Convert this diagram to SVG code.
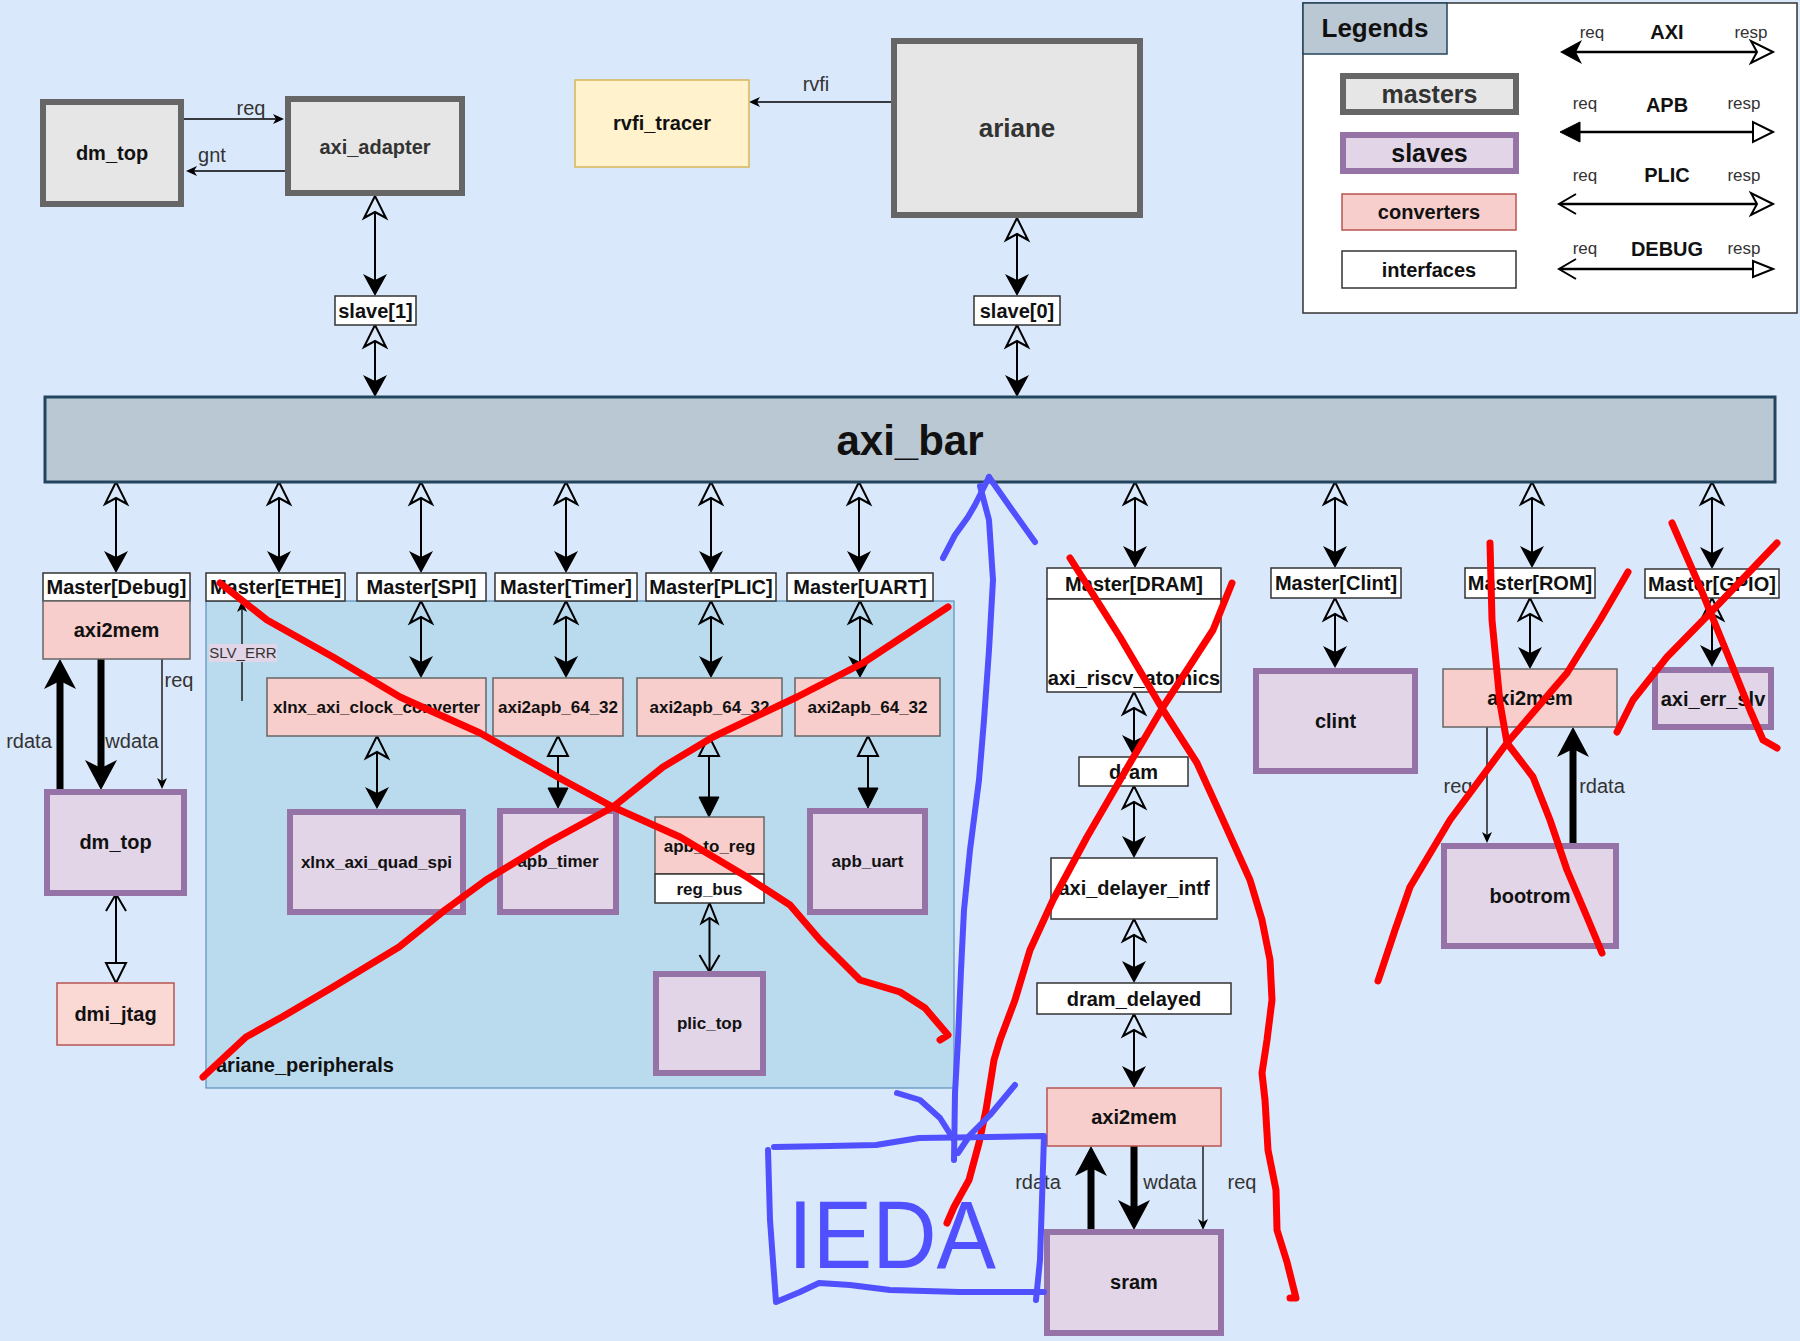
<svg xmlns="http://www.w3.org/2000/svg" width="1800" height="1341" viewBox="0 0 1800 1341">
<style>
text{font-family:"Liberation Sans",Arial,sans-serif;fill:#111;text-anchor:middle}
.b20{font-size:20px;font-weight:bold}
.b17{font-size:17px;font-weight:bold}
.lbl{font-size:20px;fill:#333}
.ll{font-size:17px;fill:#333}
.master{fill:#e6e6e6;stroke:#666;stroke-width:6}
.slave{fill:#e1d5e7;stroke:#9673a6;stroke-width:6}
.conv{fill:#f8cecc;stroke:#666;stroke-width:1.5}
.convr{fill:#f8cecc;stroke:#b85450;stroke-width:1.5}
.intf{fill:#fff;stroke:#333;stroke-width:1.5}
.c{stroke:#000;stroke-width:2;fill:none}
.axi{marker-start:url(#co);marker-end:url(#cf)}
.apb{marker-start:url(#bo);marker-end:url(#bf)}
.thin{stroke:#000;stroke-width:1.3;fill:none;marker-end:url(#sf)}
.thick{stroke:#000;stroke-width:7;fill:none;marker-end:url(#tf)}
.red{stroke:#ff0000;stroke-width:7;fill:none;stroke-linecap:round;stroke-linejoin:round}
.blue{stroke:#5050ff;stroke-width:6;fill:none;stroke-linecap:round;stroke-linejoin:round}
</style>
<defs>
<marker id="cf" markerUnits="userSpaceOnUse" orient="auto-start-reverse" refX="6" refY="0" markerWidth="30" markerHeight="30" overflow="visible"><path d="M22,0 L0,-12 L6,0 L0,12 Z" fill="#000"/></marker>
<marker id="co" markerUnits="userSpaceOnUse" orient="auto-start-reverse" refX="6" refY="0" markerWidth="30" markerHeight="30" overflow="visible"><path d="M22,0 L0,-11 L6,0 L0,11 Z" fill="none" stroke="#000" stroke-width="2"/></marker>
<marker id="con" markerUnits="userSpaceOnUse" orient="auto-start-reverse" refX="5" refY="0" markerWidth="30" markerHeight="30" overflow="visible"><path d="M20,0 L0,-8 L5,0 L0,8 Z" fill="none" stroke="#000" stroke-width="2"/></marker>
<marker id="bf" markerUnits="userSpaceOnUse" orient="auto-start-reverse" refX="0" refY="0" markerWidth="30" markerHeight="30" overflow="visible"><path d="M20,0 L0,-10 L0,10 Z" fill="#000" stroke="#000" stroke-width="1"/></marker>
<marker id="bo" markerUnits="userSpaceOnUse" orient="auto-start-reverse" refX="0" refY="0" markerWidth="30" markerHeight="30" overflow="visible"><path d="M20,0 L0,-10 L0,10 Z" fill="none" stroke="#000" stroke-width="2"/></marker>
<marker id="bos" markerUnits="userSpaceOnUse" orient="auto-start-reverse" refX="0" refY="0" markerWidth="30" markerHeight="30" overflow="visible"><path d="M20,0 L0,-8 L0,8 Z" fill="none" stroke="#000" stroke-width="2"/></marker>
<marker id="v" markerUnits="userSpaceOnUse" orient="auto-start-reverse" refX="16" refY="0" markerWidth="30" markerHeight="30" overflow="visible"><path d="M0,-10 L17,0 L0,10" fill="none" stroke="#000" stroke-width="2"/></marker>
<marker id="sf" markerUnits="userSpaceOnUse" orient="auto-start-reverse" refX="3" refY="0" markerWidth="20" markerHeight="20" overflow="visible"><path d="M11,0 L0,-5 L3,0 L0,5 Z" fill="#000"/></marker>
<marker id="tf" markerUnits="userSpaceOnUse" orient="auto-start-reverse" refX="8" refY="0" markerWidth="40" markerHeight="40" overflow="visible"><path d="M30,0 L0,-16 L8,0 L0,16 Z" fill="#000"/></marker>
</defs>
<rect x="0" y="0" width="1800" height="1341" fill="#dae8fc"/>

<g id="ariane_peripherals">
<rect x="206" y="601" width="748" height="487" fill="#badaed" stroke="#5b8fb9" stroke-width="1.2"/>
<text x="216" y="1072" class="b20" style="text-anchor:start">ariane_peripherals</text>
</g>

<g id="connectors">
<line class="c" x1="184" y1="119" x2="276" y2="119" style="stroke-width:1.5;marker-end:url(#sf)"/>
<line class="c" x1="288" y1="171" x2="194" y2="171" style="stroke-width:1.5;marker-end:url(#sf)"/>
<line class="c" x1="891" y1="102" x2="757" y2="102" style="stroke-width:1.5;marker-end:url(#sf)"/>
<line class="c axi" x1="375" y1="212" x2="375" y2="280"/>
<line class="c axi" x1="375" y1="341" x2="375" y2="381"/>
<line class="c axi" x1="1017" y1="234" x2="1017" y2="280"/>
<line class="c axi" x1="1017" y1="341" x2="1017" y2="381"/>
<line class="c axi" x1="116" y1="498" x2="116" y2="557"/>
<line class="c axi" x1="279" y1="498" x2="279" y2="557"/>
<line class="c axi" x1="421" y1="498" x2="421" y2="557"/>
<line class="c axi" x1="566" y1="498" x2="566" y2="557"/>
<line class="c axi" x1="711" y1="498" x2="711" y2="557"/>
<line class="c axi" x1="859" y1="498" x2="859" y2="557"/>
<line class="c axi" x1="1135" y1="498" x2="1135" y2="552"/>
<line class="c axi" x1="1335" y1="498" x2="1335" y2="552"/>
<line class="c axi" x1="1532" y1="498" x2="1532" y2="552"/>
<line class="c axi" x1="1712" y1="498" x2="1712" y2="553"/>
<line class="c axi" x1="421" y1="617" x2="421" y2="662"/>
<line class="c axi" x1="377" y1="752" x2="377" y2="793"/>
<line class="c axi" x1="566" y1="617" x2="566" y2="662"/>
<line class="c axi" x1="711" y1="617" x2="711" y2="662"/>
<line class="c axi" x1="860" y1="617" x2="860" y2="662"/>
<line class="c apb" x1="558" y1="756" x2="558" y2="788"/>
<line class="c apb" x1="709" y1="756" x2="709" y2="797"/>
<line class="c apb" x1="868" y1="756" x2="868" y2="788"/>
<line class="c" x1="709.5" y1="918" x2="709.5" y2="971" style="marker-start:url(#con);marker-end:url(#v)"/>
<line class="c" x1="116" y1="895" x2="116" y2="963" style="marker-start:url(#v);marker-end:url(#bo)"/>
<line class="c axi" x1="1134" y1="708" x2="1134" y2="741"/>
<line class="c axi" x1="1134" y1="802" x2="1134" y2="842"/>
<line class="c axi" x1="1134" y1="935" x2="1134" y2="967"/>
<line class="c axi" x1="1134" y1="1030" x2="1134" y2="1072"/>
<line class="c axi" x1="1335" y1="614" x2="1335" y2="652"/>
<line class="c axi" x1="1530" y1="614" x2="1530" y2="653"/>
<line class="c axi" x1="1712" y1="614" x2="1712" y2="651"/>
<line class="thick" x1="60" y1="790" x2="60" y2="681"/>
<line class="thick" x1="101" y1="659" x2="101" y2="768"/>
<line class="thin" x1="162" y1="659" x2="162" y2="781"/>
<line class="thin" x1="242" y1="701" x2="242" y2="609"/>
<line class="thick" x1="1091" y1="1230" x2="1091" y2="1168"/>
<line class="thick" x1="1134" y1="1146" x2="1134" y2="1208"/>
<line class="thin" x1="1203" y1="1146" x2="1203" y2="1222"/>
<line class="thin" x1="1487" y1="727" x2="1487" y2="835"/>
<line class="thick" x1="1573" y1="845" x2="1573" y2="749"/>
<text x="251" y="115" class="lbl">req</text>
<text x="212" y="162" class="lbl">gnt</text>
<text x="816" y="91" class="lbl">rvfi</text>
<text x="29" y="748" class="lbl">rdata</text>
<text x="132" y="748" class="lbl">wdata</text>
<text x="179" y="687" class="lbl">req</text>
<rect x="209" y="644" width="68" height="18" fill="#e1d5e7"/>
<text x="243" y="658" style="font-size:15px;fill:#333">SLV_ERR</text>
<text x="1038" y="1189" class="lbl">rdata</text>
<text x="1170" y="1189" class="lbl">wdata</text>
<text x="1242" y="1189" class="lbl">req</text>
<text x="1458" y="793" class="lbl">req</text>
<text x="1602" y="793" class="lbl">rdata</text>
</g>

<g id="dm_top_master"><rect x="43" y="102" width="138" height="102" class="master"/><text x="112" y="160" class="b20">dm_top</text></g>
<g id="axi_adapter"><rect x="288" y="99" width="174" height="94" class="master"/><text x="375" y="154" class="b20" style="fill:#333">axi_adapter</text></g>
<g id="rvfi_tracer"><rect x="575" y="80" width="174" height="87" fill="#fff2cc" stroke="#d6b656" stroke-width="1.5"/><text x="662" y="130" class="b20">rvfi_tracer</text></g>
<g id="ariane"><rect x="894" y="41" width="246" height="174" class="master"/><text x="1017" y="137" style="font-size:26px;font-weight:bold;fill:#333">ariane</text></g>
<g id="slave1"><rect x="335" y="296" width="81" height="29" class="intf"/><text x="375.5" y="318" class="b20">slave[1]</text></g>
<g id="slave0"><rect x="974" y="296" width="86" height="29" class="intf"/><text x="1017" y="318" class="b20">slave[0]</text></g>
<g id="axi_bar"><rect x="45" y="397" width="1730" height="85" fill="#bac8d3" stroke="#23445d" stroke-width="3"/><text x="910" y="455" style="font-size:42px;font-weight:bold">axi_bar</text></g>

<g id="legend">
<rect x="1303" y="3" width="494" height="310" fill="#fff" stroke="#333" stroke-width="1.5"/>
<rect x="1303" y="3" width="144" height="51" fill="#bac8d3" stroke="#23445d" stroke-width="1.5"/>
<text x="1375" y="37" style="font-size:26px;font-weight:bold">Legends</text>
<rect x="1343" y="76" width="173" height="36" class="master"/><text x="1429.5" y="103" style="font-size:25px;font-weight:bold;fill:#333">masters</text>
<rect x="1343" y="135" width="173" height="36" class="slave"/><text x="1429.5" y="162" style="font-size:25px;font-weight:bold">slaves</text>
<rect x="1342" y="194" width="174" height="36" class="convr"/><text x="1429" y="219" class="b20">converters</text>
<rect x="1342" y="251" width="174" height="37" class="intf"/><text x="1429" y="277" class="b20">interfaces</text>
<line x1="1576" y1="52" x2="1757" y2="52" stroke="#000" stroke-width="2.5" style="marker-start:url(#cf);marker-end:url(#co)"/>
<line x1="1580" y1="132" x2="1753" y2="132" stroke="#000" stroke-width="2.5" style="marker-start:url(#bf);marker-end:url(#bo)"/>
<line x1="1560" y1="204" x2="1757" y2="204" stroke="#000" stroke-width="2.5" style="marker-start:url(#v);marker-end:url(#co)"/>
<line x1="1560" y1="269" x2="1753" y2="269" stroke="#000" stroke-width="2.5" style="marker-start:url(#v);marker-end:url(#bos)"/>
<text x="1592" y="38" class="ll">req</text><text x="1667" y="39" class="b20">AXI</text><text x="1751" y="38" class="ll">resp</text>
<text x="1585" y="109" class="ll">req</text><text x="1667" y="112" class="b20">APB</text><text x="1744" y="109" class="ll">resp</text>
<text x="1585" y="181" class="ll">req</text><text x="1667" y="182" class="b20">PLIC</text><text x="1744" y="181" class="ll">resp</text>
<text x="1585" y="254" class="ll">req</text><text x="1667" y="256" class="b20">DEBUG</text><text x="1744" y="254" class="ll">resp</text>
</g>

<g id="master_debug"><rect x="43" y="573" width="147" height="28" class="intf"/><text x="116.5" y="594" class="b20">Master[Debug]</text></g>
<g id="axi2mem_debug"><rect x="43" y="601" width="147" height="58" class="conv"/><text x="116.5" y="637" class="b20">axi2mem</text></g>
<g id="dm_top_slave"><rect x="47" y="792" width="137" height="101" class="slave"/><text x="115.5" y="849" class="b20">dm_top</text></g>
<g id="dmi_jtag"><rect x="57" y="983" width="117" height="62" fill="#fad9d5" stroke="#b85450" stroke-width="1.5"/><text x="115.5" y="1021" class="b20">dmi_jtag</text></g>

<g id="master_ethe"><rect x="206" y="573" width="139" height="28" class="intf"/><text x="275.5" y="594" class="b20">Master[ETHE]</text></g>
<g id="master_spi"><rect x="357" y="573" width="129" height="28" class="intf"/><text x="421.5" y="594" class="b20">Master[SPI]</text></g>
<g id="master_timer"><rect x="495" y="573" width="142" height="28" class="intf"/><text x="566" y="594" class="b20">Master[Timer]</text></g>
<g id="master_plic"><rect x="646" y="573" width="130" height="28" class="intf"/><text x="711" y="594" class="b20">Master[PLIC]</text></g>
<g id="master_uart"><rect x="787" y="573" width="146" height="28" class="intf"/><text x="860" y="594" class="b20">Master[UART]</text></g>

<g id="xlnx_axi_clock_converter"><rect x="267" y="678" width="219" height="58" class="conv"/><text x="376.5" y="713" class="b17">xlnx_axi_clock_converter</text></g>
<g id="axi2apb_timer"><rect x="493" y="678" width="130" height="58" class="conv"/><text x="558" y="713" class="b17">axi2apb_64_32</text></g>
<g id="axi2apb_plic"><rect x="637" y="678" width="145" height="58" class="conv"/><text x="709.5" y="713" class="b17">axi2apb_64_32</text></g>
<g id="axi2apb_uart"><rect x="795" y="678" width="145" height="58" class="conv"/><text x="867.5" y="713" class="b17">axi2apb_64_32</text></g>
<g id="xlnx_axi_quad_spi"><rect x="290" y="812" width="173" height="100" class="slave"/><text x="376.5" y="868" class="b17">xlnx_axi_quad_spi</text></g>
<g id="apb_timer"><rect x="500" y="811" width="116" height="101" class="slave"/><text x="558" y="867" class="b17">apb_timer</text></g>
<g id="apb_to_reg"><rect x="655" y="817" width="109" height="57" class="conv"/><text x="709.5" y="852" class="b17">apb_to_reg</text></g>
<g id="reg_bus"><rect x="655" y="874" width="109" height="29" class="intf"/><text x="709.5" y="894.5" class="b17">reg_bus</text></g>
<g id="apb_uart"><rect x="810" y="811" width="115" height="101" class="slave"/><text x="867.5" y="867" class="b17">apb_uart</text></g>
<g id="plic_top"><rect x="656" y="974" width="107" height="99" class="slave"/><text x="709.5" y="1029" class="b17">plic_top</text></g>

<g id="master_dram"><rect x="1047" y="568" width="174" height="31" class="intf"/><text x="1134" y="590.5" class="b20">Master[DRAM]</text></g>
<g id="axi_riscv_atomics"><rect x="1047" y="599" width="174" height="93" class="intf"/><text x="1134" y="685" class="b20">axi_riscv_atomics</text></g>
<g id="dram"><rect x="1079" y="757" width="109" height="29" class="intf"/><text x="1133.5" y="778.5" class="b20">dram</text></g>
<g id="axi_delayer_intf"><rect x="1051" y="858" width="166" height="61" class="intf"/><text x="1134" y="895" class="b20">axi_delayer_intf</text></g>
<g id="dram_delayed"><rect x="1037" y="983" width="194" height="31" class="intf"/><text x="1134" y="1005.5" class="b20">dram_delayed</text></g>
<g id="axi2mem_dram"><rect x="1047" y="1088" width="174" height="58" class="convr"/><text x="1134" y="1124" class="b20">axi2mem</text></g>
<g id="sram"><rect x="1047" y="1232" width="174" height="101" class="slave"/><text x="1134" y="1289" class="b20">sram</text></g>

<g id="master_clint"><rect x="1271" y="568" width="130" height="30" class="intf"/><text x="1336" y="590" class="b20">Master[Clint]</text></g>
<g id="clint"><rect x="1256" y="671" width="159" height="100" class="slave"/><text x="1335.5" y="728" class="b20">clint</text></g>
<g id="master_rom"><rect x="1465" y="568" width="130" height="30" class="intf"/><text x="1530" y="590" class="b20">Master[ROM]</text></g>
<g id="axi2mem_rom"><rect x="1443" y="669" width="174" height="58" class="conv"/><text x="1530" y="705" class="b20">axi2mem</text></g>
<g id="bootrom"><rect x="1444" y="846" width="172" height="100" class="slave"/><text x="1530" y="903" class="b20">bootrom</text></g>
<g id="master_gpio"><rect x="1645" y="569" width="134" height="29" class="intf"/><text x="1712" y="590.5" class="b20">Master[GPIO]</text></g>
<g id="axi_err_slv"><rect x="1655" y="670" width="116" height="57" class="slave"/><text x="1713" y="705.5" class="b20">axi_err_slv</text></g>

<g id="annotations">
<path class="red" d="M220,583 L267,620 L333,657 L400,697 L480,733 L563,780 L613,807 L680,837 L747,877 L790,905 L820,940 L860,980 L900,992 L925,1008 L948,1035 L940,1040"/>
<path class="red" d="M203,1077 L246,1037 L282,1017 L333,987 L399,947 L445,910 L486,880 L547,843 L613,807 L663,767 L713,737 L797,697 L863,663 L913,630 L948,607"/>
<path class="red" d="M1070,558 L1120,637 L1163,710 L1197,763 L1223,820 L1250,880 L1262,920 L1270,960 L1272,1000 L1267,1040 L1262,1073 L1265,1100 L1268,1150 L1276,1190 L1277,1230 L1287,1262 L1296,1298 L1290,1298"/>
<path class="red" d="M1232,583 L1213,630 L1163,707 L1130,763 L1087,837 L1053,900 L1030,950 L1015,1000 L1000,1040 L994,1060 L986,1110 L979,1143 L969,1180 L954,1207 L947,1223"/>
<path class="red" d="M1490,543 L1492,620 L1500,703 L1507,743 L1533,777 L1550,820 L1567,870 L1587,917 L1602,953"/>
<path class="red" d="M1628,572 L1600,620 L1567,673 L1507,743 L1450,820 L1410,887 L1395,930 L1378,981"/>
<path class="red" d="M1672,523 L1700,587 L1727,653 L1750,710 L1763,740 L1777,748"/>
<path class="red" d="M1777,543 L1713,610 L1667,657 L1633,700 L1617,732"/>
<path class="blue" d="M980,486 L989,520 L993,580 L989,650 L984,720 L979,780 L970,850 L964,910 L961,970 L958,1040 L955,1093 L954,1160"/>
<path class="blue" d="M989,477 L975,505 L968,517 L955,535 L943,558"/>
<path class="blue" d="M989,477 L1010,507 L1035,542"/>
<path class="blue" d="M897,1093 L920,1100 L940,1118 L954,1140"/>
<path class="blue" d="M1015,1085 L990,1115 L970,1135 L958,1153"/>
<path class="blue" d="M774,1147 L830,1146 L876,1145 L919,1138 L990,1137 L1044,1136 L1042,1200 L1040,1260 L1036,1300"/>
<path class="blue" d="M768,1150 L770,1220 L776,1302 L800,1292 L819,1283 L850,1285 L890,1290 L960,1292 L1044,1292"/>
<text x="788" y="1268" textLength="208" lengthAdjust="spacingAndGlyphs" style="font-size:96px;fill:#5050ff;text-anchor:start">IEDA</text>
</g>
</svg>
